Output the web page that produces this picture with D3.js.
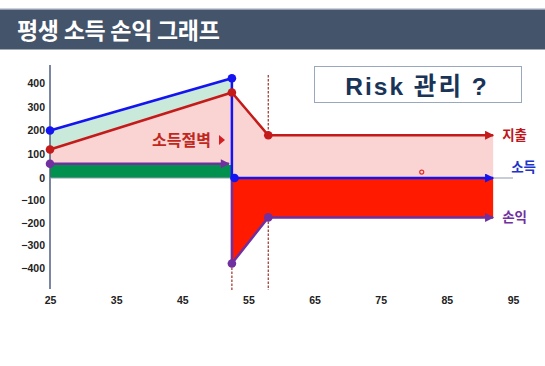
<!DOCTYPE html>
<html><head><meta charset="utf-8">
<script src="https://cdn.jsdelivr.net/npm/d3@7"></script>
<style>
body{margin:0;background:#fff;}
svg{display:block;}
</style></head>
<body>
<svg id="c" width="545" height="366"></svg>
<script>
// ---- data ----
const title = "평생 소득 손익 그래프";
const boxText = "Risk 관리 ?";
const xTicks = [25, 35, 45, 55, 65, 75, 85, 95];
const yTicks = [-400, -300, -200, -100, 0, 100, 200, 300, 400];
const incomeAges = [25, 52.5, 52.5, 92];
const incomeVals = [200, 420, 0, 0];
const expenseAges = [25, 52.5, 58, 92];
const expenseVals = [120, 360, 180, 180];
const profitAges = [25, 52.5, 52.5, 58, 92];
const profitVals = [60, 60, -380, -175, -175];
const savingAges = [25, 52.5];
const savingVals = [55, 55];
const dashAges = [52.5, 58];
const seriesLabels = ["지출", "소득", "손익"];
const cliffLabel = "소득절벽";

const svg = d3.select("#c");
const font = "'Liberation Sans', 'Noto Sans CJK KR', Arial, sans-serif";
const kfont = "'Noto Sans CJK KR', sans-serif";

// title bar
svg.append("rect").attr("x",0).attr("y",8).attr("width",545).attr("height",1.5).attr("fill","#c9d3de");
svg.append("rect").attr("x",0).attr("y",9.5).attr("width",545).attr("height",40).attr("fill","#44546a");
svg.append("text").attr("x",17).attr("y",39).text(title)
  .attr("fill","#fff").attr("font-family",kfont).attr("font-weight","bold")
  .attr("font-size",23).attr("letter-spacing",-0.3);

// scales
const x = d3.scaleLinear().domain([25, 95]).range([50, 513]);
const y = d3.scaleLinear().domain([-400, 0, 400]).range([268, 178, 83]);

const zip = (a, b) => a.map((d, i) => [d, b[i]]);
const income = zip(incomeAges, incomeVals);
const expense = zip(expenseAges, expenseVals);
const profit = zip(profitAges, profitVals);

// pink area (expense to 0)
svg.append("path").datum(expense)
  .attr("d", d3.area().x(d=>x(d[0])).y0(y(0)).y1(d=>y(d[1])))
  .attr("fill","#fad3d3");
// light green between income and expense before cliff
const pre = [0,1].map(i => [incomeAges[i], expenseVals[i], incomeVals[i]]);
svg.append("path").datum(pre)
  .attr("d", d3.area().x(d=>x(d[0])).y0(d=>y(d[1])).y1(d=>y(d[2])))
  .attr("fill","#c9eadb");
// green saving bar
svg.append("path").datum(zip(savingAges, savingVals))
  .attr("d", d3.area().x(d=>x(d[0])).y0(y(0)).y1(d=>y(d[1])))
  .attr("fill","#00914f");
// red fill (0 to profit after cliff)
svg.append("path").datum(profit.slice(2))
  .attr("d", d3.area().x(d=>x(d[0])).y0(y(0)).y1(d=>y(d[1])))
  .attr("fill","#ff1a00");

// axes lines
svg.append("line").attr("x1",x(25)).attr("x2",x(25)).attr("y1",65).attr("y2",289)
  .attr("stroke","#4d5f80").attr("stroke-width",1.5);
svg.append("line").attr("x1",x(25)).attr("x2",x(95)).attr("y1",y(0)).attr("y2",y(0))
  .attr("stroke","#8d9bb0").attr("stroke-width",1.2);

// y axis labels
const yAxis = svg.append("g").attr("transform",`translate(${x(25)},0)`)
  .call(d3.axisLeft(y).tickValues(yTicks).tickSize(0).tickPadding(5));
yAxis.select(".domain").remove();
yAxis.selectAll("text").attr("font-family","'Liberation Sans', Arial, sans-serif")
  .attr("font-weight","bold").attr("font-size",10.5).attr("fill","#222");
// x axis labels
const xAxis = svg.append("g").attr("transform","translate(0,292)")
  .call(d3.axisBottom(x).tickValues(xTicks).tickSize(0).tickPadding(5));
xAxis.select(".domain").remove();
xAxis.selectAll("text").attr("font-family","'Liberation Sans', Arial, sans-serif")
  .attr("font-weight","bold").attr("font-size",10.5).attr("fill","#222");

// dashed guides
const dashCol = "#a0302a";
svg.append("line").attr("x1",x(dashAges[1])).attr("x2",x(dashAges[1])).attr("y1",75).attr("y2",y(expenseVals[2]))
  .attr("stroke",dashCol).attr("stroke-width",1.2).attr("stroke-dasharray","2.5,1.5");
dashAges.forEach((a,i)=>{
  svg.append("line").attr("x1",x(a)).attr("x2",x(a))
    .attr("y1", y(i===0 ? profitVals[2] : profitVals[3])).attr("y2",290)
    .attr("stroke",dashCol).attr("stroke-width",1.2).attr("stroke-dasharray","2.5,1.5");
});

// markers
const defs = svg.append("defs");
function marker(id, col){
  defs.append("marker").attr("id",id).attr("viewBox","0 0 10 10").attr("refX",9).attr("refY",5)
    .attr("markerWidth",4).attr("markerHeight",3.6).attr("orient","auto").attr("markerUnits","strokeWidth")
    .append("path").attr("d","M0,0L10,5L0,10z").attr("fill",col);
}
const cRed = "#c41a1a", cBlue = "#1414f0", cPurple = "#7030a0";
marker("aRed", cRed); marker("aBlue", cBlue); marker("aPurple", cPurple);

const line = d3.line().x(d=>x(d[0])).y(d=>y(d[1]));
// purple
svg.append("path").datum(profit.slice(0,2)).attr("d", (d)=>{
    const p = d3.path(); p.moveTo(x(d[0][0]), y(d[0][1])); p.lineTo(x(d[1][0]) - 3, y(d[1][1])); return p.toString();
  }).attr("fill","none")
  .attr("stroke",cPurple).attr("stroke-width",2.5).attr("marker-end","url(#aPurple)");
svg.append("path").datum([[profitAges[1], 0]].concat(profit.slice(2))).attr("d", line).attr("fill","none")
  .attr("stroke",cPurple).attr("stroke-width",2.5).attr("marker-end","url(#aPurple)");
// red
svg.append("path").datum(expense).attr("d", line).attr("fill","none")
  .attr("stroke",cRed).attr("stroke-width",2.5).attr("marker-end","url(#aRed)");
// blue
svg.append("path").datum(income).attr("d", line).attr("fill","none")
  .attr("stroke",cBlue).attr("stroke-width",2.5).attr("marker-end","url(#aBlue)");
// points
const pts = [
  {d:income[0],c:cBlue},{d:income[1],c:cBlue},{d:[income[2][0]+0.4, 0],c:cBlue},
  {d:expense[0],c:cRed},{d:expense[1],c:cRed},{d:expense[2],c:cRed},
  {d:profit[0],c:cPurple},{d:profit[2],c:cPurple},{d:profit[3],c:cPurple}
];
svg.selectAll("circle.p").data(pts).enter().append("circle").attr("class","p")
  .attr("cx",p=>x(p.d[0])).attr("cy",p=>y(p.d[1])).attr("r",4.3).attr("fill",p=>p.c);
// small dot
svg.append("circle").attr("cx",x(81.2)).attr("cy",y(25)).attr("r",2).attr("fill","none")
  .attr("stroke","#e23030").attr("stroke-width",1.2);

// labels
const lab = [
  {t:seriesLabels[0], x:x(92)+9, y:y(180), c:"#c0161b"},
  {t:seriesLabels[1], x:x(92)+18, y:y(0)-11, c:"#2233c8"},
  {t:seriesLabels[2], x:x(92)+9, y:y(-175), c:cPurple}
];
lab.forEach(l=>{
  svg.append("text").attr("x",l.x).attr("y",l.y).attr("dy","0.36em").text(l.t)
    .attr("fill",l.c).attr("font-family",kfont).attr("font-weight","bold").attr("font-size",13.5);
});
svg.append("text").attr("x",152).attr("y",140).attr("dy","0.36em").text(cliffLabel)
  .attr("fill","#c0281e").attr("font-family",kfont).attr("font-weight","bold").attr("font-size",16);
svg.append("path").attr("d","M219,135 L225,140 L219,145 Z").attr("fill","#d42020");

// Risk box
svg.append("rect").attr("x",314.5).attr("y",66.5).attr("width",207).attr("height",36)
  .attr("fill","#fff").attr("stroke","#9aa8bd").attr("stroke-width",1);
svg.append("text").attr("x",417).attr("y",86).attr("dy","0.36em").attr("text-anchor","middle")
  .text(boxText).attr("fill","#1a3458").attr("font-family",font).attr("font-weight","bold")
  .attr("font-size",24.5).attr("letter-spacing",2);
</script>
</body></html>
